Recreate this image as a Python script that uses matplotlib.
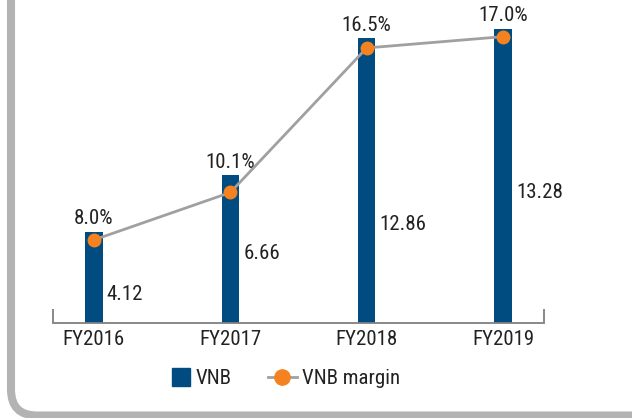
import matplotlib.pyplot as plt
from matplotlib.patches import FancyBboxPatch, Patch, Rectangle
from matplotlib.lines import Line2D
from matplotlib.legend_handler import HandlerPatch

plt.rcParams["font.family"] = ["Roboto Condensed", "Archivo Narrow", "Barlow Condensed", "DejaVu Sans"]

years = ["FY2016", "FY2017", "FY2018", "FY2019"]
vnb = [4.12, 6.66, 12.86, 13.28]
margin = [8.0, 10.1, 16.5, 17.0]
vnb_labels = ["4.12", "6.66", "12.86", "13.28"]
margin_labels = ["8.0%", "10.1%", "16.5%", "17.0%"]

# where the value text sits inside each bar (data units, baseline)
vnb_label_y = [1.04, 2.88, 4.22, 5.63]

bar_color = "#004b80"
orange = "#f58220"
line_grey = "#a0a0a0"
text_color = "#222222"

W, H = 632, 418
fig = plt.figure(figsize=(W / 100, H / 100), dpi=100)

# rounded grey frame behind everything
bg = fig.add_axes([0, 0, 1, 1], zorder=-5)
bg.set_xlim(0, W)
bg.set_ylim(H, 0)
bg.axis("off")
bg.add_patch(FancyBboxPatch((11, -100), 900, 515.5,
                            boxstyle="round,pad=0,rounding_size=26",
                            fill=False, ec="#b3b3b3", lw=5.8))

ax = fig.add_axes([53 / W, (H - 323) / H, 491 / W, 313 / H])
ax.patch.set_alpha(0)
x = list(range(len(years)))
bw = 0.128
ax.bar(x, vnb, width=bw, color=bar_color, zorder=2)
ax.set_xlim(-0.3, 3.3)
ax.set_ylim(0, 14.13)

for i, (v, lab, ly) in enumerate(zip(vnb, vnb_labels, vnb_label_y)):
    ax.annotate(lab, (i + bw / 2, ly), xytext=(3, 0), textcoords="offset points",
                ha="left", va="baseline", fontsize=15, color=text_color)
    ax.annotate(margin_labels[i], (i, v), xytext=(0, 5.4), textcoords="offset points",
                ha="center", va="baseline", fontsize=15, color=text_color)

for s in ["top", "right", "left"]:
    ax.spines[s].set_visible(False)
ax.spines["bottom"].set_color("#808080")
ax.spines["bottom"].set_linewidth(1.3)
ax.set_yticks([])
ax.set_xticks(x)
ax.set_xticklabels(years, fontsize=15, color=text_color)
ax.tick_params(axis="x", which="major", length=0, pad=5)
ax.set_xticks([-0.3, 3.3], minor=True)
ax.tick_params(axis="x", which="minor", direction="in", length=10,
               width=1.3, color="#808080")

ax2 = ax.twinx()
ax2.set_ylim(4.32, 18.18)
ax2.plot(x, margin, color=line_grey, lw=2, marker="o", ms=9,
         mfc=orange, mec=orange, zorder=3)
ax2.axis("off")


def square(legend, orig_handle, xdescent, ydescent, width, height, fontsize):
    side = height * 1.25
    return Rectangle((width - side - xdescent, -ydescent + (height - side) / 2),
                     side, side)


handles = [Patch(color=bar_color),
           Line2D([0], [0], color=line_grey, lw=2, marker="o", ms=11,
                  mfc=orange, mec=orange)]
fig.legend(handles, ["VNB", "VNB margin"], loc="center left",
           bbox_to_anchor=(161 / W, (H - 379) / H), bbox_transform=fig.transFigure,
           ncol=2, frameon=False, fontsize=15, handlelength=1.4,
           handletextpad=0.25, columnspacing=1.75, borderpad=0, borderaxespad=0,
           handler_map={Patch: HandlerPatch(patch_func=square)},
           labelcolor=text_color)

fig.savefig("out.png", dpi=100)
